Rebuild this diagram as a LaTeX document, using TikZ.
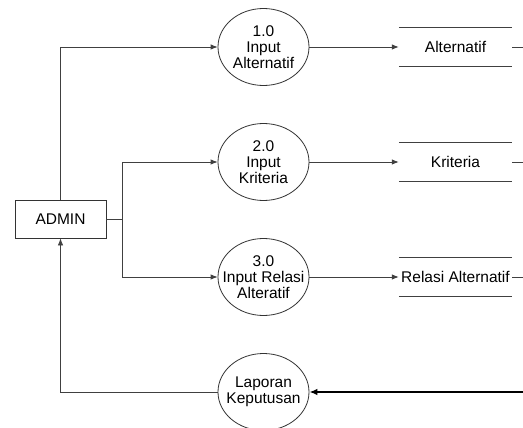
\documentclass[tikz,border=0pt]{standalone}
\usepackage{fontspec}
\setmainfont{Liberation Sans}
\usetikzlibrary{arrows.meta,shapes.geometric}
\begin{document}
\begin{tikzpicture}[x=1pt,y=-1pt,
  every node/.style={font=\fontsize{15.5}{16}\selectfont, text=black},
  proc/.style={ellipse, draw=black!80, line width=0.8pt, minimum width=91pt, minimum height=77pt, inner xsep=-14pt, inner ysep=0pt, align=center},
  ent/.style={rectangle, draw=black!80, line width=0.8pt, minimum width=91pt, minimum height=38pt},
  store/.style={rectangle, minimum width=113pt, minimum height=38pt, inner sep=0pt},
  storeline/.style={draw=black!75, line width=0.8pt},
  flow/.style={draw=black!75, line width=0.8pt, -{Latex[length=7pt,width=5.5pt]}},
  plain/.style={draw=black!75, line width=0.8pt},
  thick flow/.style={draw=black, line width=1.6pt, -{Latex[length=8pt,width=6.5pt]}}
]
\useasboundingbox (0,0) rectangle (523,428);

\node[ent] (admin) at (60.5,219) {ADMIN};
\node[proc] (p1) at (263.5,47) {1.0\\Input\\Alternatif};
\node[proc] (p2) at (263.5,162) {2.0\\Input\\Kriteria};
\node[proc] (p3) at (263.5,277) {3.0\\Input Relasi\\Alteratif};
\node[proc] (p4) at (263.5,392) {Laporan\\Keputusan};

\node[store] (s1) at (455.5,47) {Alternatif};
\node[store] (s2) at (455.5,162) {Kriteria};
\node[store] (s3) at (455.5,277) {Relasi Alternatif};

\foreach \s in {s1,s2,s3}{
  \draw[storeline] (\s.north west) -- (\s.north east);
  \draw[storeline] (\s.south west) -- (\s.south east);
}

\coordinate (r1) at (523,47);
\coordinate (r2) at (523,162);
\coordinate (r3) at (523,277);
\coordinate (r4) at (523,392);
\coordinate (j) at (122,219);

\draw[plain] (s1.east) -- (r1);
\draw[plain] (s2.east) -- (r2);
\draw[plain] (s3.east) -- (r3);

\draw[flow] (admin.north) |- (p1.west);
\draw[plain] (admin.east) -- (j);
\draw[flow] (j) |- (p2.west);
\draw[flow] (j) |- (p3.west);
\draw[flow] (p4.west) -| (admin.south);

\draw[flow] (p1.east) -- (s1.west);
\draw[flow] (p2.east) -- (s2.west);
\draw[flow] (p3.east) -- (s3.west);

\draw[thick flow] (r4) -- (p4.east);
\end{tikzpicture}
\end{document}
